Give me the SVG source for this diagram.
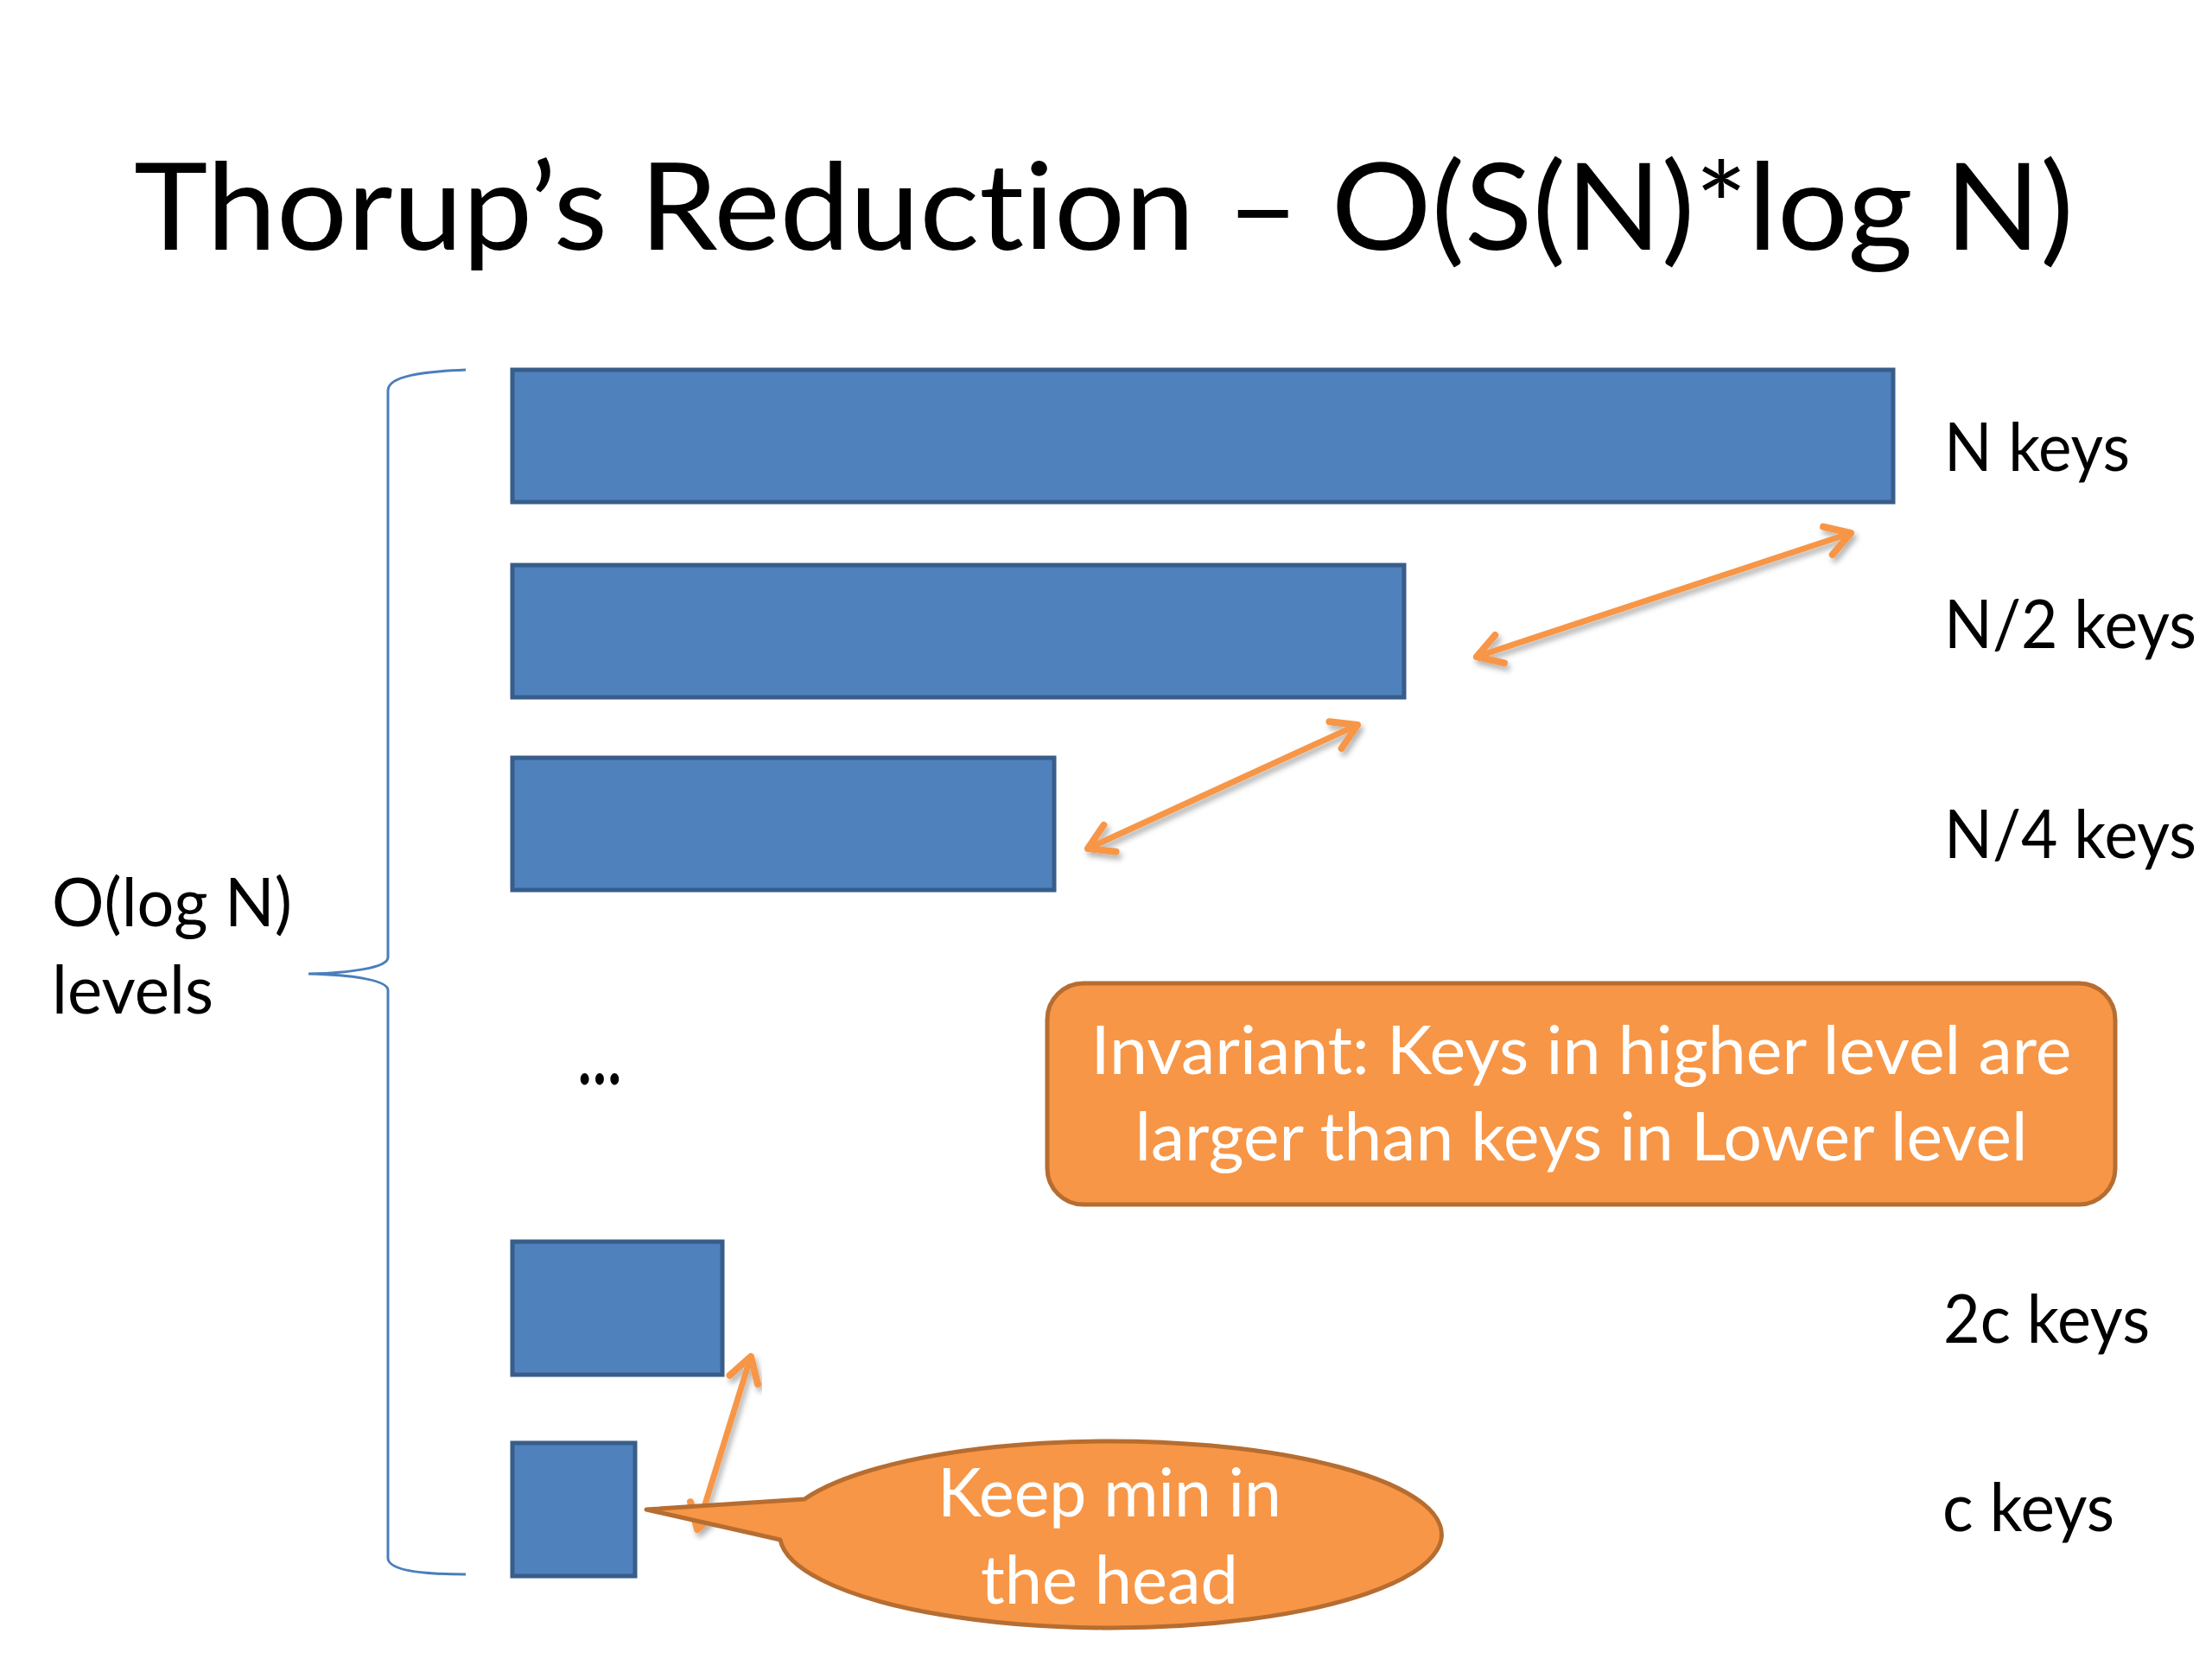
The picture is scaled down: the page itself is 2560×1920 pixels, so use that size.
<svg xmlns="http://www.w3.org/2000/svg" width="2560" height="1920" viewBox="0 0 2560 1920">
<defs>
<style>
.t{font-family:Lato,"Open Sans","Liberation Sans",sans-serif;fill:#000;font-variant-ligatures:none;}
.w{font-family:Lato,"Open Sans","Liberation Sans",sans-serif;fill:#fff;font-variant-ligatures:none;}
.bar{fill:#4F81BD;stroke:#385D8A;stroke-width:5;}
.arr{stroke:#F79646;stroke-width:7;fill:none;marker-start:url(#head);marker-end:url(#head);filter:url(#sh);}
</style>
<marker id="head" viewBox="-40 -30 50 60" refX="0" refY="0" markerWidth="50" markerHeight="60" markerUnits="userSpaceOnUse" orient="auto-start-reverse">
<path d="M-28,-17 L0,0 L-28,17" fill="none" stroke="#F79646" stroke-width="8" stroke-linejoin="round" stroke-linecap="round"/>
</marker>
<filter id="sh" x="-20%" y="-20%" width="140%" height="140%">
<feDropShadow dx="3" dy="5" stdDeviation="3" flood-color="#000" flood-opacity="0.3"/>
</filter>
</defs>
<rect width="2560" height="1920" fill="#fff"/>
<text id="title" class="t" x="155" y="289" font-size="140" textLength="2245" lengthAdjust="spacingAndGlyphs">Thorup’s Reduction – O(S(N)*log N)</text>

<g id="brace">
<path d="M539,428 C490,430 449,435 449,452 L449,1108 C449,1120 405,1126 357,1127 C405,1128 449,1134 449,1146 L449,1803 C449,1818 490,1822 539,1822" fill="none" stroke="#4A7EBB" stroke-width="3"/>
</g>
<g id="label-levels">
<text class="t" x="60" y="1072" font-size="77" textLength="278" lengthAdjust="spacingAndGlyphs">O(log N)</text>
<text class="t" x="60" y="1173" font-size="77" textLength="187" lengthAdjust="spacingAndGlyphs">levels</text>
</g>

<g id="level-N"><rect class="bar" x="593" y="428" width="1598" height="153"/></g>
<g id="level-N2"><rect class="bar" x="593" y="654" width="1032" height="153"/></g>
<g id="level-N4"><rect class="bar" x="593" y="877" width="627" height="153"/></g>
<g id="level-2c"><rect class="bar" x="593" y="1437" width="243" height="154"/></g>
<g id="level-c"><rect class="bar" x="593" y="1670" width="142" height="154"/></g>

<g id="ellipsis"><text class="t" x="669" y="1255" font-size="90" font-weight="bold" textLength="50" lengthAdjust="spacingAndGlyphs">…</text></g>

<g id="key-labels">
<text class="t" x="2250" y="545" font-size="77" textLength="215" lengthAdjust="spacingAndGlyphs">N keys</text>
<text class="t" x="2250" y="750" font-size="77" textLength="292" lengthAdjust="spacingAndGlyphs">N/2 keys</text>
<text class="t" x="2250" y="993" font-size="77" textLength="292" lengthAdjust="spacingAndGlyphs">N/4 keys</text>
<text class="t" x="2249" y="1554" font-size="77" textLength="239" lengthAdjust="spacingAndGlyphs">2c keys</text>
<text class="t" x="2248" y="1772" font-size="77" textLength="199" lengthAdjust="spacingAndGlyphs">c keys</text>
</g>

<g id="connectors">
<line class="arr" x1="1709" y1="760" x2="2142" y2="617"/>
<line class="arr" x1="1259" y1="982" x2="1571" y2="839"/>
<line class="arr" x1="807" y1="1770" x2="869" y2="1570"/>
</g>

<g id="invariant">
<rect x="1212" y="1138" width="1236" height="256" rx="42" ry="42" fill="#F79646" stroke="#B66D31" stroke-width="5"/>
<text class="w" x="1830" y="1243" font-size="77" text-anchor="middle" textLength="1135" lengthAdjust="spacingAndGlyphs">Invariant: Keys in higher level are</text>
<text class="w" x="1830" y="1343" font-size="77" text-anchor="middle" textLength="1033" lengthAdjust="spacingAndGlyphs">larger than keys in Lower level</text>
</g>

<g id="callout">
<path d="M931,1735 L748,1747 L903,1782 A383,108 0 1,0 931,1735 Z" fill="#F79646" stroke="#B66D31" stroke-width="5" stroke-linejoin="round"/>
<text class="w" x="1284" y="1755" font-size="77" text-anchor="middle" textLength="398" lengthAdjust="spacingAndGlyphs">Keep min in</text>
<text class="w" x="1284" y="1856" font-size="77" text-anchor="middle" textLength="298" lengthAdjust="spacingAndGlyphs">the head</text>
</g>
</svg>
